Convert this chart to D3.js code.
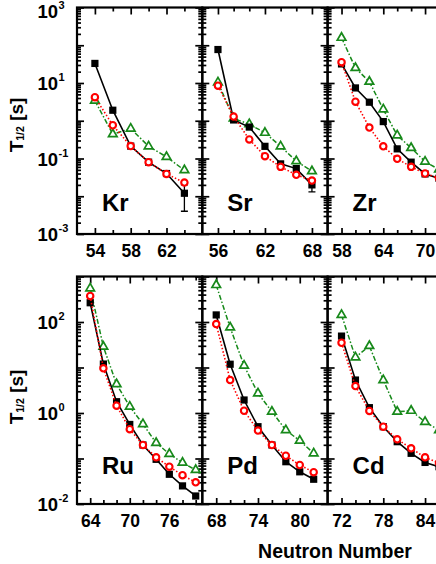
<!DOCTYPE html>
<html>
<head>
<meta charset="utf-8">
<script src="https://cdn.jsdelivr.net/npm/d3@7"></script>
<style>
  body { margin: 0; background: #fff; }
  svg { display: block; font-family: 'Liberation Sans', Arial, sans-serif; font-weight: bold; }
</style>
</head>
<body>
<div id="chart"></div>
<script>
'use strict';

// neutron numbers and half-lives [s] per element
var krN = [54, 56, 58, 60, 62, 64];
var krExp = [33, 1.9, 0.213, 0.080, 0.040, 0.012];
var krErr = [null, null, null, null, null, [0.004, 0.020]];
var krRed = [4.2, 0.76, 0.213, 0.080, 0.039, 0.023];
var krGreen = [3.4, 0.44, 0.62, 0.21, 0.11, 0.049];
var krTicks = [54, 58, 62];

var srN = [56, 58, 60, 62, 64, 66, 68];
var srExp = [77, 1.05, 0.68, 0.21, 0.072, 0.054, 0.020];
var srErr = [null, null, null, null, null, null, [0.013, 0.026]];
var srRed = [8.5, 1.29, 0.32, 0.115, 0.060, 0.037, 0.026];
var srGreen = [10.4, 1.15, 0.81, 0.48, 0.21, 0.085, 0.046];
var srTicks = [56, 62, 68];

var zrN = [58, 60, 62, 64, 66, 68, 70, 72];
var zrExp = [32, 7.4, 3.1, 0.95, 0.18, 0.080, 0.039, 0.030];
var zrRed = [35.6, 3.2, 0.66, 0.21, 0.098, 0.060, 0.040, 0.030];
var zrGreen = [158, 25, 10.8, 2.0, 0.41, 0.19, 0.083, 0.051];
var zrTicks = [58, 64, 70];

var ruN = [64, 66, 68, 70, 72, 74, 76, 78, 80];
var ruExp = [265, 11.9, 1.77, 0.56, 0.198, 0.096, 0.045, 0.025, 0.015];
var ruRed = [373, 9.6, 1.45, 0.44, 0.198, 0.106, 0.066, 0.043, 0.030];
var ruGreen = [550, 28.7, 4.3, 1.38, 0.57, 0.22, 0.126, 0.081, 0.056];
var ruTicks = [64, 70, 76];

var pdN = [68, 70, 72, 74, 76, 78, 80, 82];
var pdExp = [143, 11.8, 1.93, 0.50, 0.198, 0.085, 0.051, 0.035];
var pdRed = [90, 5.3, 1.12, 0.41, 0.198, 0.115, 0.072, 0.050];
var pdGreen = [650, 76, 11.0, 2.7, 1.07, 0.42, 0.246, 0.13];
var pdTicks = [68, 74, 80];

var cdN = [72, 74, 76, 78, 80, 82, 84, 86];
var cdExp = [49, 5.3, 1.31, 0.50, 0.234, 0.13, 0.082, 0.066];
var cdRed = [35, 3.9, 1.11, 0.50, 0.264, 0.167, 0.106, 0.08];
var cdGreen = [143, 16.7, 29.7, 5.3, 1.07, 1.12, 0.64, 0.42];
var cdTicks = [72, 78, 84];

var topYLabels = [-3, -1, 1, 3];
var bottomYLabels = [-2, 0, 2];

var panels = [
  {name: 'Kr', row: 0, col: 0, dom: [52, 66], n: krN, exp: krExp, err: krErr, red: krRed, green: krGreen, ticks: krTicks},
  {name: 'Sr', row: 0, col: 1, dom: [54, 70], n: srN, exp: srExp, err: srErr, red: srRed, green: srGreen, ticks: srTicks},
  {name: 'Zr', row: 0, col: 2, dom: [56, 74], n: zrN, exp: zrExp, err: null, red: zrRed, green: zrGreen, ticks: zrTicks},
  {name: 'Ru', row: 1, col: 0, dom: [62, 81], n: ruN, exp: ruExp, err: null, red: ruRed, green: ruGreen, ticks: ruTicks},
  {name: 'Pd', row: 1, col: 1, dom: [66, 84], n: pdN, exp: pdExp, err: null, red: pdRed, green: pdGreen, ticks: pdTicks},
  {name: 'Cd', row: 1, col: 2, dom: [70, 88], n: cdN, exp: cdExp, err: null, red: cdRed, green: cdGreen, ticks: cdTicks}
];

var rows = [
  {top: 7.5, bottom: 234, dom: [1e-3, 1e3], labels: topYLabels, titleY: 125},
  {top: 276.5, bottom: 504, dom: [1e-2, 1e3], labels: bottomYLabels, titleY: 397}
];

var left = 77, panelW = 125.3;
var green = '#17891a', red = '#ff0000';

var svg = d3.select('#chart').append('svg')
  .attr('width', 436)
  .attr('height', 564);

function styleAxis(g) {
  g.select('.domain').remove();
  g.selectAll('line').attr('stroke', '#000').attr('stroke-width', 1.7);
  g.attr('font-family', null).attr('font-size', null);
}

panels.forEach(function (p) {
  var r = rows[p.row];
  var x0 = left + p.col * panelW, x1 = x0 + panelW;
  var x = d3.scaleLinear().domain(p.dom).range([x0, x1]);
  var y = d3.scaleLog().domain(r.dom).range([r.bottom, r.top]);
  var g = svg.append('g');

  var decades = y.ticks().filter(function (v) { return Math.abs(Math.log10(v) - Math.round(Math.log10(v))) < 1e-9; });
  var minors = y.ticks().filter(function (v) { return decades.indexOf(v) < 0; });
  var xMinor = d3.range(p.dom[0] + 2, p.dom[1], 2).filter(function (v) { return p.ticks.indexOf(v) < 0; });

  // y ticks, inward on both sides
  [[d3.axisLeft, x0], [d3.axisRight, x1]].forEach(function (a) {
    g.append('g').attr('transform', 'translate(' + a[1] + ',0)')
      .call(a[0](y).tickValues(decades).tickSize(-7).tickFormat(''))
      .call(styleAxis);
    g.append('g').attr('transform', 'translate(' + a[1] + ',0)')
      .call(a[0](y).tickValues(minors).tickSize(-4).tickFormat(''))
      .call(styleAxis);
  });

  // x ticks
  g.append('g').attr('transform', 'translate(0,' + r.top + ')')
    .call(d3.axisTop(x).tickValues(p.ticks).tickSize(-7).tickFormat(''))
    .call(styleAxis);
  g.append('g').attr('transform', 'translate(0,' + r.top + ')')
    .call(d3.axisTop(x).tickValues(xMinor).tickSize(-4).tickFormat(''))
    .call(styleAxis);
  g.append('g').attr('transform', 'translate(0,' + r.bottom + ')')
    .call(d3.axisBottom(x).tickValues(xMinor).tickSize(-4).tickFormat(''))
    .call(styleAxis);
  var xa = g.append('g').attr('transform', 'translate(0,' + r.bottom + ')')
    .call(d3.axisBottom(x).tickValues(p.ticks).tickSize(-6).tickPadding(10.5).tickFormat(d3.format('d')))
    .call(styleAxis);
  xa.selectAll('text').attr('font-size', 17.5).attr('fill', '#000');

  g.append('rect')
    .attr('x', x0).attr('y', r.top)
    .attr('width', panelW).attr('height', r.bottom - r.top)
    .attr('fill', 'none').attr('stroke', '#000').attr('stroke-width', 2.2);

  var pts = function (vals) {
    return p.n.map(function (n, i) { return [x(n), y(vals[i])]; });
  };
  var line = d3.line();

  // green: dash-dot, open triangles
  g.append('path').attr('d', line(pts(p.green)))
    .attr('fill', 'none').attr('stroke', green).attr('stroke-width', 1.5)
    .attr('stroke-dasharray', '5,2,1.5,2');
  g.selectAll('.tri').data(pts(p.green)).enter().append('path')
    .attr('transform', function (d) { return 'translate(' + d[0] + ',' + d[1] + ')'; })
    .attr('d', d3.symbol(d3.symbolTriangle, 32)())
    .attr('fill', '#fff').attr('stroke', green).attr('stroke-width', 1.7);

  // black: experiment
  g.append('path').attr('d', line(pts(p.exp)))
    .attr('fill', 'none').attr('stroke', '#000').attr('stroke-width', 1.6);
  if (p.err) {
    p.err.forEach(function (e, i) {
      if (!e) return;
      var cx = x(p.n[i]);
      g.append('path')
        .attr('d', 'M' + cx + ',' + y(e[0]) + 'V' + y(e[1]) +
          'M' + (cx - 3.5) + ',' + y(e[0]) + 'H' + (cx + 3.5) +
          'M' + (cx - 3.5) + ',' + y(e[1]) + 'H' + (cx + 3.5))
        .attr('stroke', '#000').attr('stroke-width', 1.3).attr('fill', 'none');
    });
  }
  g.selectAll('.sq').data(pts(p.exp)).enter().append('rect')
    .attr('x', function (d) { return d[0] - 3.6; })
    .attr('y', function (d) { return d[1] - 3.6; })
    .attr('width', 7.2).attr('height', 7.2)
    .attr('fill', '#000');

  // red: dotted, open circles
  g.append('path').attr('d', line(pts(p.red)))
    .attr('fill', 'none').attr('stroke', red).attr('stroke-width', 1.6)
    .attr('stroke-dasharray', '1.5,2');
  g.selectAll('.circ').data(pts(p.red)).enter().append('circle')
    .attr('cx', function (d) { return d[0]; })
    .attr('cy', function (d) { return d[1]; })
    .attr('r', 3.2)
    .attr('fill', '#fff').attr('stroke', red).attr('stroke-width', 2.1);

  g.append('text')
    .attr('x', x0 + 25).attr('y', p.row === 0 ? 211 : 474)
    .attr('font-size', 24)
    .text(p.name);
});

// y tick labels and titles
rows.forEach(function (r) {
  var y = d3.scaleLog().domain(r.dom).range([r.bottom, r.top]);
  // keep the top label inside the picture
  var ty = function (e) { return Math.max(y(Math.pow(10, e)), 11); };
  var lab = svg.append('g').selectAll('g').data(r.labels).enter().append('g')
    .attr('transform', function (e) { return 'translate(0,' + ty(e) + ')'; });
  lab.append('text')
    .attr('x', 58).attr('y', 7)
    .attr('text-anchor', 'end').attr('font-size', 18.5)
    .text('10');
  lab.append('text')
    .attr('x', 58.5).attr('y', -2)
    .attr('font-size', 11)
    .text(function (e) { return e; });

  var t = svg.append('text')
    .attr('transform', 'translate(22.5,' + r.titleY + ') rotate(-90)')
    .attr('text-anchor', 'middle')
    .attr('font-size', 19);
  t.append('tspan').text('T');
  t.append('tspan').attr('font-size', 10.5).attr('dy', 1).text('1/2');
  t.append('tspan').attr('dy', -1).text(' [s]');
});

svg.append('text')
  .attr('x', 335).attr('y', 558)
  .attr('text-anchor', 'middle')
  .attr('font-size', 19.5)
  .text('Neutron Number');
</script>
</body>
</html>
